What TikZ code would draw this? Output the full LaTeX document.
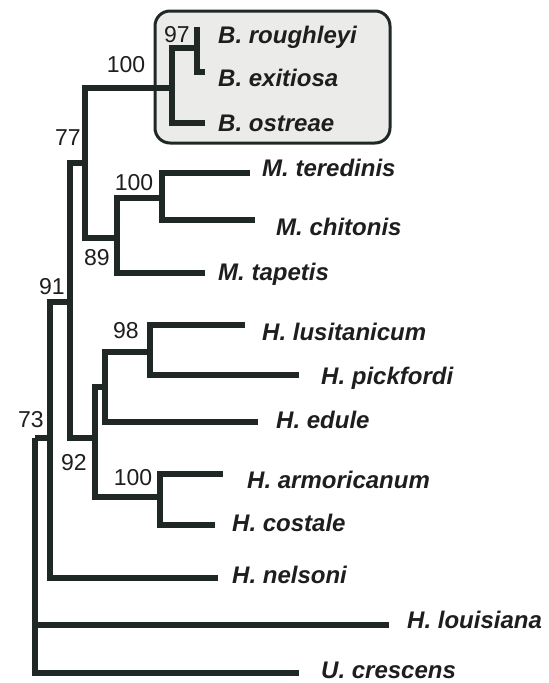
\documentclass[tikz,border=0pt]{standalone}
\usepackage{fontspec}
\setmainfont{Liberation Sans}
\definecolor{brc}{HTML}{1F2824}
\definecolor{boxfill}{HTML}{EBEBEA}
\definecolor{txt}{HTML}{1E1E1E}
\begin{document}
\begin{tikzpicture}[x=1pt,y=-1pt,
  br/.style={line width=5.8pt,draw=brc},
  taxon/.style={anchor=base west,inner sep=0pt,text=txt,font=\fontsize{24}{24}\selectfont\bfseries\itshape},
  boot/.style={anchor=center,inner sep=0pt,text=txt,font=\fontsize{23}{23}\selectfont}]
\useasboundingbox[fill=white] (0,0) rectangle (549,683);
% clade box
\draw[line width=3pt,draw=brc,fill=boxfill,rounded corners=15pt] (155,11) rectangle (390,143);
% internal nodes (x of vertical, y of stem)
\coordinate (root) at (35,438);
\coordinate (n73) at (50,438);
\coordinate (n91) at (70,302);
\coordinate (n77) at (85,163);
\coordinate (bon) at (172,88);
\coordinate (n97) at (197,48);
\coordinate (n89) at (117,238);
\coordinate (m100) at (162,198);
\coordinate (n92) at (95,438);
\coordinate (nx) at (105,387);
\coordinate (n98) at (150,352);
\coordinate (h100) at (160,497);
% tips
\coordinate (trough) at (197,27);
\coordinate (texit) at (205,72);
\coordinate (tostr) at (205,123);
\coordinate (tter) at (250,173);
\coordinate (tchi) at (255,220);
\coordinate (ttap) at (205,273);
\coordinate (tlus) at (245,325);
\coordinate (tpick) at (299,375);
\coordinate (tedu) at (258,422);
\coordinate (tarm) at (223,474);
\coordinate (tcos) at (215,525);
\coordinate (tnel) at (218,578);
\coordinate (tlou) at (389,625);
\coordinate (tcre) at (299,673);
% branches
\draw[br] (root) |- (n73);
\draw[br] (root) |- (tlou);
\draw[br] (root) |- (tcre);
\draw[br] (n73) |- (n91);
\draw[br] (n73) |- (tnel);
\draw[br] (n91) |- (n77);
\draw[br] (n91) |- (n92);
\draw[br] (n77) |- (bon);
\draw[br] (n77) |- (n89);
\draw[br] (bon) |- (n97);
\draw[br] (bon) |- (tostr);
\draw[br] (n97) |- (trough);
\draw[br] (n97) |- (texit);
\draw[br] (n89) |- (m100);
\draw[br] (n89) |- (ttap);
\draw[br] (m100) |- (tter);
\draw[br] (m100) |- (tchi);
\draw[br] (n92) |- (nx);
\draw[br] (n92) |- (h100);
\draw[br] (nx) |- (n98);
\draw[br] (nx) |- (tedu);
\draw[br] (n98) |- (tlus);
\draw[br] (n98) |- (tpick);
\draw[br] (h100) |- (tarm);
\draw[br] (h100) |- (tcos);
% taxon labels
\node[taxon] (lrough) at (218,43.6) {B. roughleyi};
\node[taxon] (lexit) at (218,86.6) {B. exitiosa};
\node[taxon] (lostr) at (218,131.6) {B. ostreae};
\node[taxon] (lter) at (262,176.6) {M. teredinis};
\node[taxon] (lchi) at (276,235.6) {M. chitonis};
\node[taxon] (ltap) at (218,280.6) {M. tapetis};
\node[taxon] (llus) at (262,340.6) {H. lusitanicum};
\node[taxon] (lpick) at (321,384.6) {H. pickfordi};
\node[taxon] (ledu) at (276,428.6) {H. edule};
\node[taxon] (larm) at (247,488.6) {H. armoricanum};
\node[taxon] (lcos) at (232,531.6) {H. costale};
\node[taxon] (lnel) at (232,583.6) {H. nelsoni};
\node[taxon] (llou) at (407,628.6) {H. louisiana};
\node[taxon] (lcre) at (321,678.6) {U. crescens};
% bootstrap values
\node[boot] (b97) at (177,35) {97};
\node[boot] (b100a) at (126,65) {100};
\node[boot] (b77) at (68,138) {77};
\node[boot] (b100b) at (134,183) {100};
\node[boot] (b89) at (97,258) {89};
\node[boot] (b91) at (52,287) {91};
\node[boot] (b98) at (126,331) {98};
\node[boot] (b73) at (31,420) {73};
\node[boot] (b92) at (74,463) {92};
\node[boot] (b100c) at (133,478) {100};
\end{tikzpicture}
\end{document}
